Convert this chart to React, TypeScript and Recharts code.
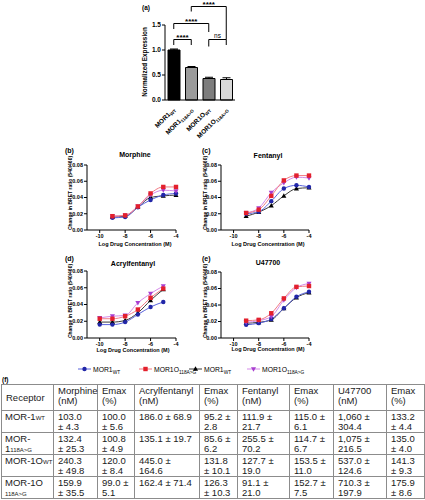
import React from "react";
import {
  Bar,
  BarChart,
  Cell,
  ErrorBar,
  Line,
  LineChart,
  ReferenceLine,
  XAxis,
  YAxis,
} from "recharts";

const FONT = '"Liberation Sans", Arial, Helvetica, sans-serif';

// (a) normalized expression
const receptorNames = ["MOR1", "MOR1", "MOR1O", "MOR1O"];
const receptorSubs = ["WT", "118A>G", "WT", "118A>G"];
const expression = [1.0, 0.65, 0.43, 0.41];
const expressionErr = [0.02, 0.02, 0.025, 0.035];

// significance brackets (bar index, top and leg ends in y units)
const brackets = [
  { from: 0, to: 1, top: 1.21, leftEnd: 1.1, rightEnd: 1.1, label: "****" },
  { from: 0, to: 2, top: 1.53, leftEnd: 1.42, rightEnd: 1.36, label: "****" },
  { from: 1, to: 3, top: 1.87, leftEnd: 1.77, rightEnd: 1.21, label: "****" },
  { from: 2, to: 3, top: 1.21, leftEnd: 1.07, rightEnd: 1.1, label: "ns" },
];

// (b)-(e) change in BRET ratio vs log dose
const morphineDose = [-9, -8, -7, -6, -5, -4];
const morphineWt = [0.015, 0.016, 0.028, 0.037, 0.043, 0.045];
const morphineOWt = [0.017, 0.018, 0.029, 0.045, 0.053, 0.053];
const morphineMut = [0.016, 0.017, 0.028, 0.04, 0.042, 0.043];
const morphineOMut = [0.017, 0.018, 0.029, 0.043, 0.049, 0.048];

const fentanylDose = [-9, -8, -7, -6, -5, -4];
const fentanylWt = [0.02, 0.0225, 0.0355, 0.051, 0.055, 0.053];
const fentanylOWt = [0.021, 0.025, 0.042, 0.061, 0.067, 0.067];
const fentanylMut = [0.017, 0.022, 0.03, 0.042, 0.051, 0.052];
const fentanylOMut = [0.021, 0.027, 0.046, 0.058, 0.065, 0.064];

const acrylDose = [-10, -9, -8, -7, -6, -5];
const acrylWt = [0.016, 0.016, 0.019, 0.028, 0.037, 0.043];
const acrylOWt = [0.023, 0.023, 0.026, 0.034, 0.048, 0.059];
const acrylMut = [0.019, 0.019, 0.021, 0.03, 0.045, 0.058];
const acrylOMut = [0.024, 0.026, 0.027, 0.042, 0.053, 0.062];

const u47Dose = [-9, -8, -7, -6, -5, -4];
const u47Wt = [0.016, 0.018, 0.023, 0.036, 0.05, 0.056];
const u47OWt = [0.021, 0.022, 0.03, 0.048, 0.062, 0.063];
const u47Mut = [0.018, 0.019, 0.022, 0.036, 0.049, 0.055];
const u47OMut = [0.019, 0.021, 0.026, 0.046, 0.061, 0.066];

const doseTicks = [-10, -8, -6, -4];
const bretTicks = [0, 0.02, 0.04, 0.06, 0.08];

// (f) table
const tableHeaders = [
  "Receptor",
  "Morphine\n(nM)",
  "Emax\n(%)",
  "Acrylfentanyl\n(nM)",
  "Emax\n(%)",
  "Fentanyl\n(nM)",
  "Emax\n(%)",
  "U47700\n(nM)",
  "Emax\n(%)",
];
const tableReceptorBase = ["MOR-1", "MOR-\n1", "MOR-1O", "MOR-1O\n"];
const tableReceptorSub = ["WT", "118A>G", "WT", "118A>G"];
const morphineEc50 = ["103.0\n± 4.3", "132.4\n± 25.3", "240.3\n± 49.8", "159.9\n± 35.5"];
const morphineEmax = ["100.0\n± 5.6", "100.8\n± 4.9", "120.0\n± 8.4", "99.0 ±\n5.1"];
const acrylEc50 = ["186.0 ± 68.9", "135.1 ± 19.7", "445.0 ±\n164.6", "162.4 ± 71.4"];
const acrylEmax = ["95.2 ±\n2.8", "85.6 ±\n6.2", "131.8\n± 10.1", "126.3\n± 10.3"];
const fentanylEc50 = ["111.9 ±\n21.7", "255.5 ±\n70.2", "127.7 ±\n19.0", "91.1 ±\n21.0"];
const fentanylEmax = ["115.0 ±\n6.1", "114.7 ±\n6.7", "153.5 ±\n11.0", "152.7 ±\n7.5"];
const u47Ec50 = ["1,060 ±\n304.4", "1,075 ±\n216.5", "537.0 ±\n124.6", "710.3 ±\n197.9"];
const u47Emax = ["133.2\n± 4.4", "135.0\n± 4.0", "141.3\n± 9.3", "175.9\n± 8.6"];

const colWidths = [52, 44, 37, 65, 38, 52, 44, 53, 38];

const barFills = ["#000000", "#9b9b9b", "#7d7d7d", "#d9d9d9"];
const seriesStyle = [
  { line: "#5862dc", point: "#2126a8", shape: "circle" },
  { line: "#f27a84", point: "#e3202c", shape: "square" },
  { line: "#3a3a3a", point: "#000000", shape: "triangle" },
  { line: "#d58ae9", point: "#a83fd0", shape: "down" },
];
const drawOrder = [2, 0, 3, 1];

function Marker({ cx, cy, shape, color, s = 2.2 }: any) {
  if (shape === "circle") return <circle cx={cx} cy={cy} r={s} fill={color} />;
  if (shape === "square")
    return <rect x={cx - s} y={cy - s} width={2 * s} height={2 * s} fill={color} />;
  const d = shape === "triangle" ? 1 : -1;
  return (
    <polygon
      points={`${cx},${cy - d * s * 1.2} ${cx - s * 1.15},${cy + d * s * 0.85} ${cx + s * 1.15},${cy + d * s * 0.85}`}
      fill={color}
    />
  );
}

function Txt({ x, y, size, bold = true, start = false, rotate = false, children }: any) {
  const t = start ? "translate(0,-50%)" : "translate(-50%,-50%)";
  return (
    <div
      style={{
        position: "absolute",
        left: x,
        top: y,
        transform: rotate ? `${t} rotate(-90deg)` : t,
        fontSize: size,
        fontWeight: bold ? "bold" : "normal",
        whiteSpace: "nowrap",
        lineHeight: 1,
      }}
    >
      {children}
    </div>
  );
}

function ReceptorTick({ x, y, payload }: any) {
  const i = receptorNames.findIndex((n, k) => n + receptorSubs[k] === payload.value);
  return (
    <g transform={`translate(${x + 2},${y + 2})`}>
      <text transform="rotate(-45)" textAnchor="end" fontSize={6.5} fontWeight="bold" fontFamily={FONT} fill="#000">
        {receptorNames[i]}
        <tspan fontSize={4.5} dy={1.5}>
          {receptorSubs[i]}
        </tspan>
      </text>
    </g>
  );
}

function ExpressionChart() {
  const data = receptorNames.map((n, i) => ({
    receptor: n + receptorSubs[i],
    expression: expression[i],
    err: [0, expressionErr[i]],
  }));
  const key = (i: number) => data[i].receptor;
  const tick = { fontSize: 6.5, fontWeight: "bold", fill: "#000", fontFamily: FONT };
  return (
    <div style={{ position: "absolute", left: 130, top: 0 }}>
      <BarChart width={120} height={150} data={data} margin={{ top: 25, right: 15, bottom: 0, left: 0 }}>
        <XAxis dataKey="receptor" height={50} interval={0} tickLine={false} stroke="#000" tick={<ReceptorTick />} />
        <YAxis
          domain={[0, 1.5]}
          ticks={[0, 0.5, 1, 1.5]}
          width={35}
          tickSize={3}
          tickMargin={1}
          stroke="#000"
          tick={tick}
          tickFormatter={(v: number) => v.toFixed(1)}
        />
        <Bar dataKey="expression" barSize={12} stroke="#000" strokeWidth={1} isAnimationActive={false}>
          {data.map((d, i) => (
            <Cell key={d.receptor} fill={barFills[i]} />
          ))}
          <ErrorBar dataKey="err" width={4} stroke="#000" strokeWidth={1} direction="y" />
        </Bar>
        {brackets.map((b, j) => [
          <ReferenceLine
            key={`h${j}`}
            ifOverflow="visible"
            stroke="#000"
            segment={[
              { x: key(b.from), y: b.top },
              { x: key(b.to), y: b.top },
            ]}
            label={{
              value: b.label,
              position: "top",
              offset: b.label === "ns" ? 2 : 0,
              fontSize: b.label === "ns" ? 6.5 : 8,
              fontWeight: b.label === "ns" ? "normal" : "bold",
              fill: "#000",
              fontFamily: FONT,
            }}
          />,
          <ReferenceLine
            key={`l${j}`}
            ifOverflow="visible"
            stroke="#000"
            segment={[
              { x: key(b.from), y: b.leftEnd },
              { x: key(b.from), y: b.top },
            ]}
          />,
          <ReferenceLine
            key={`r${j}`}
            ifOverflow="visible"
            stroke="#000"
            segment={[
              { x: key(b.to), y: b.rightEnd },
              { x: key(b.to), y: b.top },
            ]}
          />,
        ])}
      </BarChart>
    </div>
  );
}

function DoseChart({ dose, values, left, top, plotTop, plotHeight, plotWidth }: any) {
  const data = dose.map((d: number, i: number) => ({
    dose: d,
    s0: values[0][i],
    s1: values[1][i],
    s2: values[2][i],
    s3: values[3][i],
  }));
  const tick = { fontSize: 5.5, fontWeight: "bold", fill: "#000", fontFamily: FONT };
  return (
    <div style={{ position: "absolute", left, top }}>
      <LineChart
        width={126}
        height={plotTop + plotHeight + 15}
        data={data}
        margin={{ top: plotTop, right: 126 - 27 - plotWidth, bottom: 0, left: 0 }}
      >
        <XAxis
          type="number"
          dataKey="dose"
          domain={[-11, -4]}
          ticks={doseTicks}
          height={15}
          tickSize={3}
          tickMargin={1}
          stroke="#000"
          tick={tick}
        />
        <YAxis
          domain={[0, 0.08]}
          ticks={bretTicks}
          width={27}
          tickSize={3}
          tickMargin={1}
          stroke="#000"
          tick={tick}
          tickFormatter={(v: number) => v.toFixed(2)}
        />
        {drawOrder.map((i) => (
          <Line
            key={i}
            type="monotone"
            dataKey={`s${i}`}
            stroke={seriesStyle[i].line}
            strokeWidth={1}
            isAnimationActive={false}
            dot={(p: any) => (
              <Marker key={`${i}-${p.index}`} cx={p.cx} cy={p.cy} shape={seriesStyle[i].shape} color={seriesStyle[i].point} />
            )}
          />
        ))}
      </LineChart>
    </div>
  );
}

const panels = [
  { letter: "(b)", title: "Morphine", dose: morphineDose, values: [morphineWt, morphineOWt, morphineMut, morphineOMut], left: 60, top: 155, plotTop: 10, plotHeight: 65, plotWidth: 89, lx: 65, cx: 135, ty: 150, titleY: 154, yl: 70, ylY: 193, xlY: 245 },
  { letter: "(c)", title: "Fentanyl", dose: fentanylDose, values: [fentanylWt, fentanylOWt, fentanylMut, fentanylOMut], left: 194, top: 155, plotTop: 10, plotHeight: 65, plotWidth: 88, lx: 202, cx: 268, ty: 150, titleY: 155, yl: 205, ylY: 193, xlY: 245 },
  { letter: "(d)", title: "Acrylfentanyl", dose: acrylDose, values: [acrylWt, acrylOWt, acrylMut, acrylOMut], left: 60, top: 262, plotTop: 9, plotHeight: 67, plotWidth: 89, lx: 65, cx: 133, ty: 258, titleY: 263, yl: 70, ylY: 301, xlY: 351 },
  { letter: "(e)", title: "U47700", dose: u47Dose, values: [u47Wt, u47OWt, u47Mut, u47OMut], left: 194, top: 262, plotTop: 10, plotHeight: 66, plotWidth: 88, lx: 202, cx: 268, ty: 258, titleY: 262, yl: 205, ylY: 301, xlY: 350 },
];

const legendLabels = ["MOR1", "MOR1O", "MOR1", "MOR1O"];
const legendX = [78, 139, 189, 247];

function Legend() {
  return (
    <>
      {legendLabels.map((l, i) => (
        <div key={i} style={{ position: "absolute", left: legendX[i], top: 364, display: "flex", alignItems: "center", fontSize: 6.8, whiteSpace: "nowrap" }}>
          <svg width={13} height={10}>
            <line x1={0} x2={13} y1={5} y2={5} stroke={seriesStyle[i].line} strokeWidth={1} />
            <Marker cx={6.5} cy={5} shape={seriesStyle[i].shape} color={seriesStyle[i].point} />
          </svg>
          <span style={{ marginLeft: 2 }}>
            {l}
            <span style={{ fontSize: 4.8, position: "relative", top: 2 }}>{receptorSubs[i]}</span>
          </span>
        </div>
      ))}
    </>
  );
}

function ResultsTable() {
  const cols = [morphineEc50, morphineEmax, acrylEc50, acrylEmax, fentanylEc50, fentanylEmax, u47Ec50, u47Emax];
  const cell: React.CSSProperties = {
    border: "1px solid #8c8c8c",
    padding: "1px 2px 0 4px",
    whiteSpace: "pre",
    verticalAlign: "top",
    lineHeight: "10px",
    height: 20,
    boxSizing: "border-box",
    overflow: "visible",
  };
  return (
    <table
      style={{
        position: "absolute",
        left: 1,
        top: 384,
        width: 423,
        tableLayout: "fixed",
        borderCollapse: "collapse",
        fontSize: 9.5,
        color: "#1a1a1a",
      }}
    >
      <colgroup>
        {colWidths.map((w, i) => (
          <col key={i} style={{ width: w }} />
        ))}
      </colgroup>
      <tbody>
        <tr style={{ height: 26 }}>
          {tableHeaders.map((h, i) => (
            <td key={i} style={{ ...cell, verticalAlign: i === 0 ? "middle" : "top" }}>
              {h}
            </td>
          ))}
        </tr>
        {tableReceptorBase.map((base, r) => {
          const parts = base.split("\n");
          return (
            <tr key={r} style={{ height: 22 }}>
              <td style={{ ...cell, paddingLeft: 3, paddingRight: 0 }}>
                {parts.map((part, k) => (
                  <React.Fragment key={k}>
                    {k > 0 && <br />}
                    {part && <span>{part}</span>}
                  </React.Fragment>
                ))}
                <span style={{ fontSize: 6, lineHeight: "6px" }}>{tableReceptorSub[r]}</span>
              </td>
              {cols.map((c, k) => (
                <td key={k} style={cell}>
                  {c[r]}
                </td>
              ))}
            </tr>
          );
        })}
      </tbody>
    </table>
  );
}

export default function App() {
  return (
    <div
      style={{
        position: "absolute",
        left: 0,
        top: 0,
        width: 425,
        height: 500,
        background: "#fff",
        fontFamily: FONT,
        color: "#000",
        overflow: "hidden",
      }}
    >
      <Txt x={142} y={8} size={6.5} start>
        (a)
      </Txt>
      <Txt x={145} y={62} size={6.3} rotate>
        Normalized Expression
      </Txt>
      <ExpressionChart />

      {panels.map((p) => (
        <React.Fragment key={p.letter}>
          <Txt x={p.lx} y={p.ty} size={7} start>
            {p.letter}
          </Txt>
          <Txt x={p.cx} y={p.titleY} size={7}>
            {p.title}
          </Txt>
          <Txt x={p.yl} y={p.ylY} size={5} rotate>
            Change in BRET ratio (540/460)
          </Txt>
          <Txt x={p.cx} y={p.xlY} size={5.5}>
            Log Drug Concentration (M)
          </Txt>
          <DoseChart {...p} />
        </React.Fragment>
      ))}

      <Legend />

      <Txt x={2} y={380} size={6.5} start>
        (f)
      </Txt>
      <ResultsTable />
    </div>
  );
}
